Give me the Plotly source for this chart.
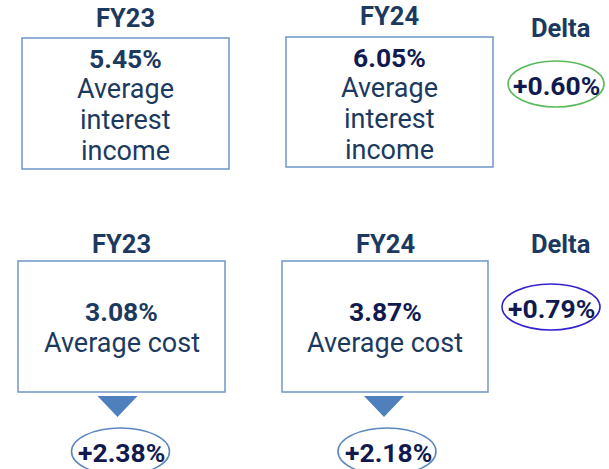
import plotly.graph_objects as go

years = ["FY23", "FY24"]
income_rates = [5.45, 6.05]
cost_rates = [3.08, 3.87]
income_delta = 0.60
cost_delta = 0.79
spreads = [2.38, 2.18]
income_label = ["Average", "interest", "income"]
cost_label = "Average cost"
delta_title = "Delta"

W, H = 609, 469
FONT = "Roboto, Arial, sans-serif"
C_TITLE = "#1c3a60"
C_DARK = "#111a4f"
C_BOX = "#6f96c9"
C_TRI = "#4f7fbd"

fig = go.Figure()
shapes = []
ann = []

def text(x, y, s, bold=False, color=C_TITLE, size=25):
    ann.append(dict(x=x, y=y, xref="x", yref="y", text=(f"<b>{s}</b>" if bold else s),
                    showarrow=False, xanchor="center", yanchor="middle",
                    font=dict(family=FONT, size=size, color=color)))

def box(x0, x1, y0, y1):
    shapes.append(dict(type="rect", xref="x", yref="y", x0=x0, x1=x1, y0=y0, y1=y1,
                       line=dict(color=C_BOX, width=1.5), fillcolor="rgba(0,0,0,0)"))

def ellipse(x0, x1, y0, y1, color):
    shapes.append(dict(type="circle", xref="x", yref="y", x0=x0, x1=x1, y0=y0, y1=y1,
                       line=dict(color=color, width=1.6), fillcolor="rgba(0,0,0,0)"))

S_REG = 27
S_VAL = 26.5
S_TTL = 25.5

# Top row: income
top_boxes = [(22, 229, 38, 169), (286, 493, 37, 167)]
top_title_y = [18, 16]
val_colors = [C_TITLE, C_DARK]
for i, (x0, x1, y0, y1) in enumerate(top_boxes):
    cx = (x0 + x1) / 2
    box(x0, x1, y0, y1)
    text(cx, top_title_y[i], years[i], bold=True, size=S_TTL)
    text(cx, y0 + 20, f"{income_rates[i]:.2f}%", bold=True, color=val_colors[i], size=S_VAL)
    for j, w in enumerate(income_label):
        text(cx, y0 + 51 + 31 * j, w, size=S_REG)

text(560, 28, delta_title, bold=True, size=S_TTL)
ellipse(508, 604, 61, 107, "#5cb85c")
text(556, 85, f"+{income_delta:.2f}%", bold=True, color=C_DARK, size=S_VAL)

# Bottom row: cost
bot_boxes = [(18, 225, 261, 392), (282, 488, 261, 392)]
for i, (x0, x1, y0, y1) in enumerate(bot_boxes):
    cx = (x0 + x1) / 2
    box(x0, x1, y0, y1)
    text(cx, 244, years[i], bold=True, size=S_TTL)
    text(cx, y0 + 50, f"{cost_rates[i]:.2f}%", bold=True, color=val_colors[i], size=S_VAL)
    text(cx, y0 + 82, cost_label, size=S_REG)
    tx = cx - 4 if i == 0 else cx - 1
    shapes.append(dict(type="path", xref="x", yref="y",
                       path=f"M {tx-20} 396 L {tx+20} 396 L {tx} 417 Z",
                       fillcolor=C_TRI, line=dict(color=C_TRI, width=0)))
    ex = tx + 3
    ellipse(ex - 49, ex + 49, 428, 475, "#5b87c0")
    text(ex + 1, 452, f"+{spreads[i]:.2f}%", bold=True, color=C_DARK, size=S_VAL)

text(560, 244, delta_title, bold=True, size=S_TTL)
ellipse(502, 600, 284, 330, "#3322d0")
text(551, 308, f"+{cost_delta:.2f}%", bold=True, color=C_DARK, size=S_VAL)

fig.update_layout(
    width=W, height=H,
    margin=dict(l=0, r=0, t=0, b=0),
    paper_bgcolor="white", plot_bgcolor="white",
    xaxis=dict(range=[0, W], visible=False, fixedrange=True),
    yaxis=dict(range=[H, 0], visible=False, fixedrange=True),
    shapes=shapes, annotations=ann, showlegend=False,
)
fig.write_html("out.html", config={"displayModeBar": False},
               post_script="document.body.style.margin='0';document.body.style.overflow='hidden';")
